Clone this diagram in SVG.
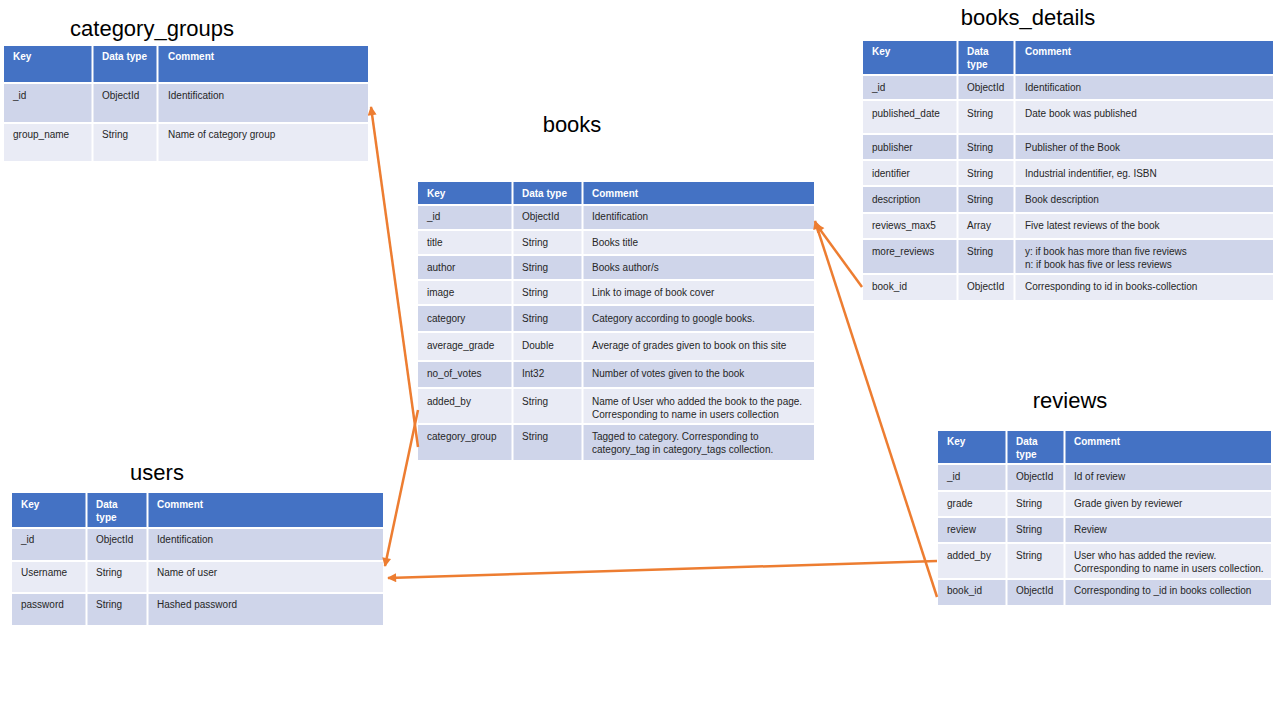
<svg xmlns="http://www.w3.org/2000/svg" width="1280" height="720" viewBox="0 0 1280 720">
<defs>
<marker id="arr" viewBox="0 0 10 10" refX="9" refY="5" markerWidth="11" markerHeight="9" markerUnits="userSpaceOnUse" orient="auto">
<path d="M0,0 L10,5 L0,10 z" fill="#ED7D31"/>
</marker>
</defs>
<style>
.h{fill:#4472C4}
.d{fill:#CFD5EA}
.l{fill:#E9EBF5}
.sep{stroke:#fff;stroke-width:2}
.rowsep{stroke:#fff;stroke-width:2}
text{font-family:"Liberation Sans",Arial,sans-serif}
.t{font-size:22px;fill:#000;text-anchor:middle}
.hd{font-size:10px;font-weight:bold;fill:#fff}
.c{font-size:10px;fill:#262626}
.conn{stroke:#ED7D31;stroke-width:2.5;fill:none;marker-end:url(#arr)}
</style>
<rect width="1280" height="720" fill="#fff"/>

<g id="category_groups">
<text class="t" x="152" y="36">category_groups</text>
<rect class="h" x="4" y="46" width="364" height="36"/>
<rect class="d" x="4" y="84" width="364" height="38"/>
<rect class="l" x="4" y="124" width="364" height="37"/>
<line class="sep" x1="92.5" y1="46" x2="92.5" y2="161"/>
<line class="sep" x1="157.5" y1="46" x2="157.5" y2="161"/>
<text class="hd" x="13" y="60">Key</text>
<text class="hd" x="102" y="60">Data type</text>
<text class="hd" x="168" y="60">Comment</text>
<text class="c" x="13" y="99">_id</text>
<text class="c" x="102" y="99">ObjectId</text>
<text class="c" x="168" y="99">Identification</text>
<text class="c" x="13" y="138">group_name</text>
<text class="c" x="102" y="138">String</text>
<text class="c" x="168" y="138">Name of category group</text>
</g>

<g id="books">
<text class="t" x="572" y="132">books</text>
<rect class="h" x="418" y="182" width="396" height="22"/>
<rect class="d" x="418" y="206" width="396" height="23"/>
<rect class="l" x="418" y="231" width="396" height="23"/>
<rect class="d" x="418" y="256" width="396" height="23"/>
<rect class="l" x="418" y="281" width="396" height="23"/>
<rect class="d" x="418" y="306" width="396" height="25"/>
<rect class="l" x="418" y="333" width="396" height="27"/>
<rect class="d" x="418" y="362" width="396" height="25"/>
<rect class="l" x="418" y="389" width="396" height="34"/>
<rect class="d" x="418" y="425" width="396" height="35"/>
<line class="sep" x1="512.5" y1="182" x2="512.5" y2="460"/>
<line class="sep" x1="582.5" y1="182" x2="582.5" y2="460"/>
<text class="hd" x="427" y="197">Key</text>
<text class="hd" x="522" y="197">Data type</text>
<text class="hd" x="592" y="197">Comment</text>
<text class="c" x="427" y="220">_id</text>
<text class="c" x="522" y="220">ObjectId</text>
<text class="c" x="592" y="220">Identification</text>
<text class="c" x="427" y="246">title</text>
<text class="c" x="522" y="246">String</text>
<text class="c" x="592" y="246">Books title</text>
<text class="c" x="427" y="271">author</text>
<text class="c" x="522" y="271">String</text>
<text class="c" x="592" y="271">Books author/s</text>
<text class="c" x="427" y="296">image</text>
<text class="c" x="522" y="296">String</text>
<text class="c" x="592" y="296">Link to image of book cover</text>
<text class="c" x="427" y="322">category</text>
<text class="c" x="522" y="322">String</text>
<text class="c" x="592" y="322">Category according to google books.</text>
<text class="c" x="427" y="349">average_grade</text>
<text class="c" x="522" y="349">Double</text>
<text class="c" x="592" y="349">Average of grades given to book on this site</text>
<text class="c" x="427" y="377">no_of_votes</text>
<text class="c" x="522" y="377">Int32</text>
<text class="c" x="592" y="377">Number of votes given to the book</text>
<text class="c" x="427" y="405">added_by</text>
<text class="c" x="522" y="405">String</text>
<text class="c" x="592" y="405">Name of User who added the book to the page.</text>
<text class="c" x="592" y="418">Corresponding to name in users collection</text>
<text class="c" x="427" y="440">category_group</text>
<text class="c" x="522" y="440">String</text>
<text class="c" x="592" y="440">Tagged to category. Corresponding to</text>
<text class="c" x="592" y="453">category_tag in category_tags collection.</text>
</g>

<g id="books_details">
<text class="t" x="1028" y="25">books_details</text>
<rect class="h" x="863" y="41" width="410" height="33"/>
<rect class="d" x="863" y="76" width="410" height="23"/>
<rect class="l" x="863" y="101" width="410" height="32"/>
<rect class="d" x="863" y="135" width="410" height="24"/>
<rect class="l" x="863" y="161" width="410" height="24"/>
<rect class="d" x="863" y="187" width="410" height="25"/>
<rect class="l" x="863" y="214" width="410" height="24"/>
<rect class="d" x="863" y="240" width="410" height="33"/>
<rect class="l" x="863" y="275" width="410" height="25"/>
<line class="sep" x1="957.5" y1="41" x2="957.5" y2="300"/>
<line class="sep" x1="1014.5" y1="41" x2="1014.5" y2="300"/>
<text class="hd" x="872" y="55">Key</text>
<text class="hd" x="967" y="55">Data</text>
<text class="hd" x="967" y="68">type</text>
<text class="hd" x="1025" y="55">Comment</text>
<text class="c" x="872" y="91">_id</text>
<text class="c" x="967" y="91">ObjectId</text>
<text class="c" x="1025" y="91">Identification</text>
<text class="c" x="872" y="117">published_date</text>
<text class="c" x="967" y="117">String</text>
<text class="c" x="1025" y="117">Date  book was published</text>
<text class="c" x="872" y="151">publisher</text>
<text class="c" x="967" y="151">String</text>
<text class="c" x="1025" y="151">Publisher of the Book</text>
<text class="c" x="872" y="177">identifier</text>
<text class="c" x="967" y="177">String</text>
<text class="c" x="1025" y="177">Industrial indentifier, eg. ISBN</text>
<text class="c" x="872" y="203">description</text>
<text class="c" x="967" y="203">String</text>
<text class="c" x="1025" y="203">Book description</text>
<text class="c" x="872" y="229">reviews_max5</text>
<text class="c" x="967" y="229">Array</text>
<text class="c" x="1025" y="229">Five latest reviews of the book</text>
<text class="c" x="872" y="255">more_reviews</text>
<text class="c" x="967" y="255">String</text>
<text class="c" x="1025" y="255">y: if book has more than five reviews</text>
<text class="c" x="1025" y="268">n: if book has five or less reviews</text>
<text class="c" x="872" y="290">book_id</text>
<text class="c" x="967" y="290">ObjectId</text>
<text class="c" x="1025" y="290">Corresponding to id in books-collection</text>
</g>

<g id="reviews">
<text class="t" x="1070" y="408">reviews</text>
<rect class="h" x="938" y="431" width="333" height="32"/>
<rect class="d" x="938" y="465" width="333" height="25"/>
<rect class="l" x="938" y="492" width="333" height="24"/>
<rect class="d" x="938" y="518" width="333" height="24"/>
<rect class="l" x="938" y="544" width="333" height="34"/>
<rect class="d" x="938" y="580" width="333" height="25"/>
<line class="sep" x1="1006.5" y1="431" x2="1006.5" y2="605"/>
<line class="sep" x1="1064.5" y1="431" x2="1064.5" y2="605"/>
<text class="hd" x="947" y="445">Key</text>
<text class="hd" x="1016" y="445">Data</text>
<text class="hd" x="1016" y="458">type</text>
<text class="hd" x="1074" y="445">Comment</text>
<text class="c" x="947" y="480">_id</text>
<text class="c" x="1016" y="480">ObjectId</text>
<text class="c" x="1074" y="480">Id of review</text>
<text class="c" x="947" y="507">grade</text>
<text class="c" x="1016" y="507">String</text>
<text class="c" x="1074" y="507">Grade given by reviewer</text>
<text class="c" x="947" y="533">review</text>
<text class="c" x="1016" y="533">String</text>
<text class="c" x="1074" y="533">Review</text>
<text class="c" x="947" y="559">added_by</text>
<text class="c" x="1016" y="559">String</text>
<text class="c" x="1074" y="559">User who has added the review.</text>
<text class="c" x="1074" y="572">Corresponding to name in users collection.</text>
<text class="c" x="947" y="594">book_id</text>
<text class="c" x="1016" y="594">ObjectId</text>
<text class="c" x="1074" y="594">Corresponding to _id in books collection</text>
</g>

<g id="users">
<text class="t" x="157" y="480">users</text>
<rect class="h" x="12" y="493" width="371" height="34"/>
<rect class="d" x="12" y="529" width="371" height="31"/>
<rect class="l" x="12" y="562" width="371" height="30"/>
<rect class="d" x="12" y="594" width="371" height="31"/>
<line class="sep" x1="86.5" y1="493" x2="86.5" y2="625"/>
<line class="sep" x1="147.5" y1="493" x2="147.5" y2="625"/>
<text class="hd" x="21" y="508">Key</text>
<text class="hd" x="96" y="508">Data</text>
<text class="hd" x="96" y="521">type</text>
<text class="hd" x="157" y="508">Comment</text>
<text class="c" x="21" y="543">_id</text>
<text class="c" x="96" y="543">ObjectId</text>
<text class="c" x="157" y="543">Identification</text>
<text class="c" x="21" y="576">Username</text>
<text class="c" x="96" y="576">String</text>
<text class="c" x="157" y="576">Name of user</text>
<text class="c" x="21" y="608">password</text>
<text class="c" x="96" y="608">String</text>
<text class="c" x="157" y="608">Hashed password</text>
</g>

<g id="connectors">
<line class="conn" x1="418" y1="447" x2="371" y2="107"/>
<line class="conn" x1="418" y1="410" x2="385" y2="566"/>
<line class="conn" x1="937" y1="597" x2="815" y2="221"/>
<line class="conn" x1="862" y1="287" x2="816" y2="224"/>
<line class="conn" x1="937" y1="561" x2="388" y2="578"/>
</g>
</svg>
